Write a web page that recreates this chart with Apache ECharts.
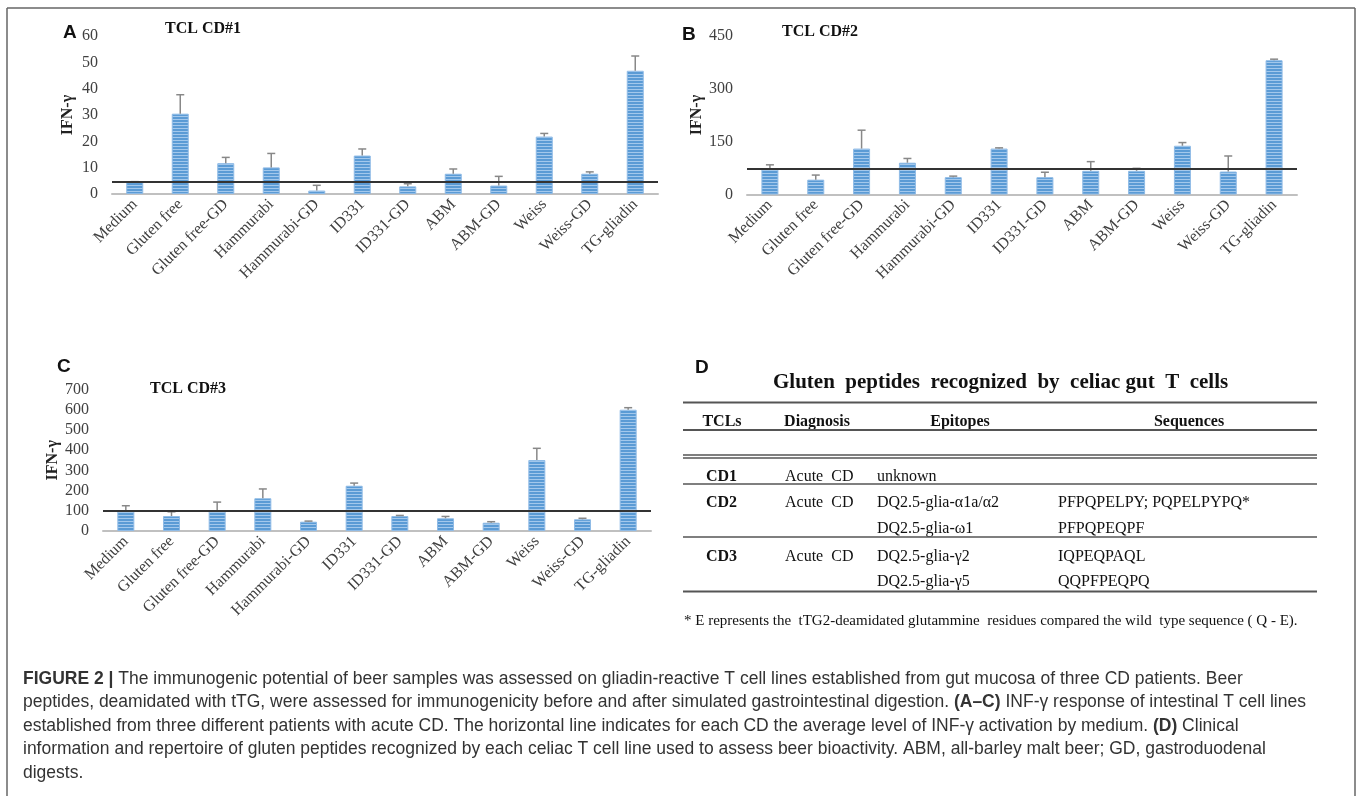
<!DOCTYPE html>
<html><head><meta charset="utf-8">
<script src="https://cdn.jsdelivr.net/npm/echarts@6/dist/echarts.min.js"></script>
<style>html,body{margin:0;padding:0;background:#fff}#c{width:1358px;height:796px}</style>
</head><body><div id="c"></div>
<script>
// ---------- data ----------
const categories = ['Medium','Gluten free','Gluten free-GD','Hammurabi','Hammurabi-GD','ID331','ID331-GD','ABM','ABM-GD','Weiss','Weiss-GD','TG-gliadin'];

const cd1Values = [4.5, 30.5, 11.7, 10.1, 1.3, 14.6, 2.9, 7.7, 3.2, 21.8, 7.7, 46.8];
const cd1Errors = [0.2, 7.2, 2.2, 5.3, 2.0, 2.5, 1.0, 1.8, 3.5, 1.2, 0.7, 5.6];
const cd1Medium = 4.5;
const cd1Axis = {max: 60, interval: 10};

const cd2Values = [72, 42, 130, 90, 49, 130, 49, 67, 67, 138, 65, 380];
const cd2Errors = [12, 13, 52, 12, 3, 2, 14, 26, 7, 9, 44, 3];
const cd2Medium = 72;
const cd2Axis = {max: 450, interval: 150};

const cd3Values = [99, 74, 99, 162, 46, 224, 74, 63, 41, 351, 58, 600];
const cd3Errors = [26, 21, 44, 46, 3, 13, 3, 9, 5, 58, 5, 10];
const cd3Medium = 99;
const cd3Axis = {max: 700, interval: 100};

const panelTitles = ['TCL CD#1', 'TCL CD#2', 'TCL CD#3'];
const panelLetters = ['A', 'B', 'C', 'D'];
const yAxisName = 'IFN-γ';

const tableTitle = 'Gluten  peptides  recognized  by  celiac gut  T  cells';
const tableHeaders = ['TCLs', 'Diagnosis', 'Epitopes', 'Sequences'];
const tableRows = [
  ['CD1', 'Acute  CD', 'unknown', ''],
  ['CD2', 'Acute  CD', 'DQ2.5-glia-α1a/α2', 'PFPQPELPY; PQPELPYPQ*'],
  ['', '', 'DQ2.5-glia-ω1', 'PFPQPEQPF'],
  ['CD3', 'Acute  CD', 'DQ2.5-glia-γ2', 'IQPEQPAQL'],
  ['', '', 'DQ2.5-glia-γ5', 'QQPFPEQPQ']
];
const tableFootnote = '* E represents the  tTG2-deamidated glutammine  residues compared the wild  type sequence ( Q - E).';

const captionLines = [
  '{b|FIGURE 2 |} The immunogenic potential of beer samples was assessed on gliadin-reactive T cell lines established from gut mucosa of three CD patients. Beer',
  'peptides, deamidated with tTG, were assessed for immunogenicity before and after simulated gastrointestinal digestion. {b|(A–C)} INF-γ response of intestinal T cell lines',
  'established from three different patients with acute CD. The horizontal line indicates for each CD the average level of INF-γ activation by medium. {b|(D)} Clinical',
  'information and repertoire of gluten peptides recognized by each celiac T cell line used to assess beer bioactivity. ABM, all-barley malt beer; GD, gastroduodenal',
  'digests.'
];

// ---------- drawing ----------
const SERIF = '"Liberation Serif", "Times New Roman", serif';
const SANS = '"Liberation Sans", Arial, sans-serif';

function stripes() {
  const c = document.createElement('canvas');
  c.width = 4; c.height = 3;
  const g = c.getContext('2d');
  g.fillStyle = '#5b9bd5'; g.fillRect(0, 0, 4, 3);
  g.fillStyle = '#a3c8ec'; g.fillRect(0, 2, 4, 1);
  return c;
}
const barFill = {image: stripes(), repeat: 'repeat'};

const panels = [
  {values: cd1Values, errors: cd1Errors, ref: cd1Medium, axis: cd1Axis, grid: {left: 112, top: 36, width: 546, height: 158}, nameGap: 36},
  {values: cd2Values, errors: cd2Errors, ref: cd2Medium, axis: cd2Axis, grid: {left: 747, top: 35.5, width: 550, height: 159}, nameGap: 39},
  {values: cd3Values, errors: cd3Errors, ref: cd3Medium, axis: cd3Axis, grid: {left: 103, top: 389.5, width: 548, height: 141.5}, nameGap: 42}
];

const grids = [], xAxes = [], yAxes = [], series = [];
panels.forEach((p, k) => {
  grids.push(Object.assign({containLabel: false}, p.grid));
  xAxes.push({
    type: 'category', gridIndex: k, data: categories,
    axisLine: {lineStyle: {color: '#c0c0c0', width: 2}},
    axisTick: {show: false},
    axisLabel: {rotate: 45, interval: 0, fontFamily: SERIF, fontSize: 16, color: '#404040', margin: 8}
  });
  yAxes.push({
    type: 'value', gridIndex: k, min: 0, max: p.axis.max, interval: p.axis.interval,
    axisLine: {show: false}, axisTick: {show: false}, splitLine: {show: false},
    axisLabel: {fontFamily: SERIF, fontSize: 16, color: '#404040', margin: 14},
    name: yAxisName, nameLocation: 'middle', nameGap: p.nameGap,
    nameTextStyle: {fontFamily: SERIF, fontWeight: 'bold', fontSize: 16, color: '#222'}
  });
  series.push({
    type: 'bar', xAxisIndex: k, yAxisIndex: k, data: p.values, barWidth: 17,
    itemStyle: {color: barFill, borderColor: '#8fbbe6', borderWidth: 1},
    silent: true,
    markLine: {
      silent: true, symbol: 'none', label: {show: false},
      lineStyle: {color: '#333', width: 2, type: 'solid'},
      data: [{yAxis: p.ref}], z: 5
    }
  });
  series.push({
    type: 'custom', xAxisIndex: k, yAxisIndex: k, z: 4, silent: true,
    data: p.values.map((v, i) => [i, v, p.errors[i]]),
    renderItem: function (params, api) {
      const i = api.value(0), v = api.value(1), e = api.value(2);
      const a = api.coord([i, v]), b = api.coord([i, v + e]);
      const st = {stroke: '#888', lineWidth: 1.5};
      return {type: 'group', children: [
        {type: 'line', shape: {x1: a[0], y1: a[1], x2: b[0], y2: b[1]}, style: st},
        {type: 'line', shape: {x1: b[0] - 4, y1: b[1], x2: b[0] + 4, y2: b[1]}, style: st}
      ]};
    }
  });
});

const graphic = [];
function txt(x, y, text, font, fill, align, extra) {
  graphic.push(Object.assign({type: 'text', silent: true,
    style: {x: x, y: y, text: text, font: font, fill: fill || '#222', align: align || 'left', verticalAlign: 'middle'}}, extra || {}));
}
function hline(x1, x2, y, w, color) {
  graphic.push({type: 'line', silent: true, shape: {x1: x1, y1: y, x2: x2, y2: y}, style: {stroke: color || '#555', lineWidth: w}});
}

// frame
graphic.push({type: 'line', silent: true, shape: {x1: 7, y1: 8, x2: 1355, y2: 8}, style: {stroke: '#666', lineWidth: 1.5}});
graphic.push({type: 'line', silent: true, shape: {x1: 7, y1: 8, x2: 7, y2: 796}, style: {stroke: '#666', lineWidth: 1.5}});
graphic.push({type: 'line', silent: true, shape: {x1: 1355, y1: 8, x2: 1355, y2: 796}, style: {stroke: '#666', lineWidth: 1.5}});

// panel letters and titles
const letterPos = [[63, 33], [682, 35], [57, 367], [695, 368]];
panelLetters.forEach((L, i) => txt(letterPos[i][0], letterPos[i][1], L, 'bold 19px ' + SANS, '#111', 'left'));
const titlePos = [[165, 29], [782, 32], [150, 389]];
panelTitles.forEach((t, i) => txt(titlePos[i][0], titlePos[i][1], t, 'bold 16px ' + SERIF, '#111', 'left'));

// table D
txt(773, 383, tableTitle, 'bold 21px ' + SERIF, '#111', 'left');
const tL = 683, tR = 1317;
hline(tL, tR, 402.5, 2);
const headX = [[722, 'center'], [817, 'center'], [960, 'center'], [1189, 'center']];
tableHeaders.forEach((h, i) => txt(headX[i][0], 421.5, h, 'bold 16px ' + SERIF, '#111', headX[i][1]));
hline(tL, tR, 430, 2);
hline(tL, tR, 455, 1.5);
hline(tL, tR, 458, 1.5);
const rowY = [476.5, 503, 528.5, 556.5, 582];
const colX = [706, 785, 877, 1058];
tableRows.forEach((r, ri) => {
  r.forEach((c, ci) => {
    if (!c) return;
    txt(colX[ci], rowY[ri], c, (ci === 0 ? 'bold ' : '') + '16px ' + SERIF, '#111', 'left');
  });
});
hline(tL, tR, 484, 1.5);
hline(tL, tR, 537, 1.5);
hline(tL, tR, 591.5, 2);
txt(684, 621, tableFootnote, '15px ' + SERIF, '#111', 'left');

// caption
const capY = [679, 702.5, 726, 749.5, 773];
captionLines.forEach((line, i) => {
  graphic.push({type: 'text', silent: true, style: {
    x: 23, y: capY[i], text: line, font: '17.5px ' + SANS, fill: '#333', align: 'left', verticalAlign: 'middle',
    rich: {b: {fontFamily: SANS, fontSize: 17.5, fontWeight: 'bold', fill: '#333', verticalAlign: 'middle'}}
  }});
});

const chart = echarts.init(document.getElementById('c'), null, {renderer: 'canvas'});
chart.setOption({
  animation: false,
  backgroundColor: '#fff',
  grid: grids, xAxis: xAxes, yAxis: yAxes, series: series,
  graphic: graphic
});
</script></body></html>
